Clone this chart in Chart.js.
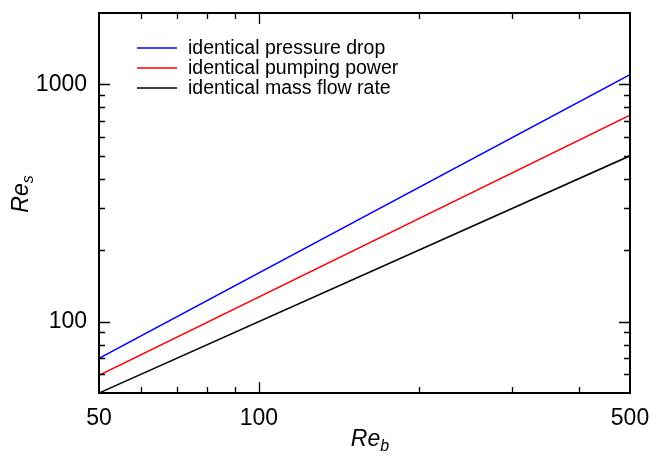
<!DOCTYPE html>
<html>
<head>
<meta charset="utf-8">
<script src="https://cdn.jsdelivr.net/npm/chart.js@4.4.1/dist/chart.umd.min.js"></script>
<style>
  html, body { margin: 0; padding: 0; background: #fff; }
  #c { display: block; }
</style>
</head>
<body>
<canvas id="c" width="652" height="461"></canvas>
<script>
// ---- data ----
const reB = [50, 500];
const pressureDrop = [70, 1099];
const pumpingPower = [59.4, 742];
const massFlowRate = [50, 500];
const seriesLabels = ["identical pressure drop", "identical pumping power", "identical mass flow rate"];
const seriesColors = ["#0000ff", "#ff0000", "#000000"];
const xTickLabels = [50, 100, 500];
const yTickLabels = [100, 1000];
const xMinorTicks = [60, 70, 80, 90, 200, 300, 400];
const yMinorTicks = [60, 70, 80, 90, 200, 300, 400, 500, 600, 700, 800, 900];
const xMajorTicks = [100];
const yMajorTicks = [100, 1000];

const FONT = "'Liberation Sans', Arial, sans-serif";

function pts(ys) { return reB.map((x, i) => ({ x: x, y: ys[i] })); }

function zeroPad(s) {
  s.paddingLeft = 0; s.paddingRight = 0; s.paddingTop = 0; s.paddingBottom = 0;
}

const framePlugin = {
  id: 'frame',
  afterDraw(chart) {
    const ctx = chart.ctx;
    const a = chart.chartArea;
    const xs = chart.scales.x, ys = chart.scales.y;
    ctx.save();
    ctx.strokeStyle = '#000';
    ctx.lineWidth = 2;
    ctx.strokeRect(a.left, a.top, a.right - a.left, a.bottom - a.top);
    ctx.lineWidth = 1.3;
    ctx.beginPath();
    const tick = (vals, len, axis) => {
      vals.forEach(v => {
        if (axis === 'x') {
          const p = Math.round(xs.getPixelForValue(v)) + 0.5;
          ctx.moveTo(p, a.bottom); ctx.lineTo(p, a.bottom - len);
          ctx.moveTo(p, a.top); ctx.lineTo(p, a.top + len);
        } else {
          const p = Math.round(ys.getPixelForValue(v)) + 0.5;
          ctx.moveTo(a.left, p); ctx.lineTo(a.left + len, p);
          ctx.moveTo(a.right, p); ctx.lineTo(a.right - len, p);
        }
      });
    };
    tick(xMinorTicks, 6, 'x');
    tick(xMajorTicks, 11, 'x');
    tick(yMinorTicks, 6, 'y');
    tick(yMajorTicks, 11, 'y');
    ctx.stroke();

    // legend
    ctx.font = '19.5px ' + FONT;
    ctx.textBaseline = 'middle';
    ctx.textAlign = 'left';
    chart.data.datasets.forEach((ds, i) => {
      const y = 48 + i * 20;
      ctx.strokeStyle = ds.borderColor;
      ctx.lineWidth = 1.5;
      ctx.beginPath();
      ctx.moveTo(137, y); ctx.lineTo(177, y);
      ctx.stroke();
      ctx.fillStyle = '#000';
      ctx.fillText(ds.label, 188, y + 1);
    });

    // axis titles with subscripts
    const drawSub = (main, sub, cx, cy, rot) => {
      ctx.save();
      ctx.translate(cx, cy);
      ctx.rotate(rot);
      ctx.fillStyle = '#000';
      ctx.textBaseline = 'alphabetic';
      ctx.textAlign = 'left';
      ctx.font = 'italic 23px ' + FONT;
      const w1 = ctx.measureText(main).width;
      ctx.font = 'italic 16px ' + FONT;
      const w2 = ctx.measureText(sub).width;
      const x0 = -(w1 + w2) / 2;
      ctx.font = 'italic 23px ' + FONT;
      ctx.fillText(main, x0, 0);
      ctx.font = 'italic 16px ' + FONT;
      ctx.fillText(sub, x0 + w1, 5);
      ctx.restore();
    };
    drawSub('Re', 'b', 370, 446, 0);
    drawSub('Re', 's', 28, 194, -Math.PI / 2);
    ctx.restore();
  }
};

new Chart(document.getElementById('c'), {
  type: 'scatter',
  data: {
    datasets: [
      { label: seriesLabels[0], data: pts(pressureDrop), borderColor: seriesColors[0] },
      { label: seriesLabels[1], data: pts(pumpingPower), borderColor: seriesColors[1] },
      { label: seriesLabels[2], data: pts(massFlowRate), borderColor: seriesColors[2] }
    ].map(d => Object.assign(d, { showLine: true, borderWidth: 1.5, pointRadius: 0, fill: false, backgroundColor: d.borderColor }))
  },
  options: {
    responsive: false,
    animation: false,
    devicePixelRatio: 1,
    layout: { padding: { top: 13, right: 22, left: 0, bottom: 0 } },
    plugins: { legend: { display: false }, tooltip: { enabled: false } },
    scales: {
      x: {
        type: 'logarithmic', min: 50, max: 500,
        afterBuildTicks: s => { s.ticks = xTickLabels.map(v => ({ value: v })); },
        afterFit: s => { s.height = 68; zeroPad(s); },
        grid: { display: false, drawTicks: false },
        border: { display: false },
        ticks: { color: '#000', font: { family: FONT, size: 23 }, padding: 12, maxRotation: 0, autoSkip: false, callback: v => String(v) }
      },
      y: {
        type: 'logarithmic', min: 50, max: 2000,
        afterBuildTicks: s => { s.ticks = yTickLabels.map(v => ({ value: v })); },
        afterFit: s => { s.width = 99; zeroPad(s); },
        grid: { display: false, drawTicks: false },
        border: { display: false },
        ticks: { color: '#000', font: { family: FONT, size: 23 }, padding: 12, autoSkip: false, callback: v => String(v) }
      }
    }
  },
  plugins: [framePlugin]
});
</script>
</body>
</html>
